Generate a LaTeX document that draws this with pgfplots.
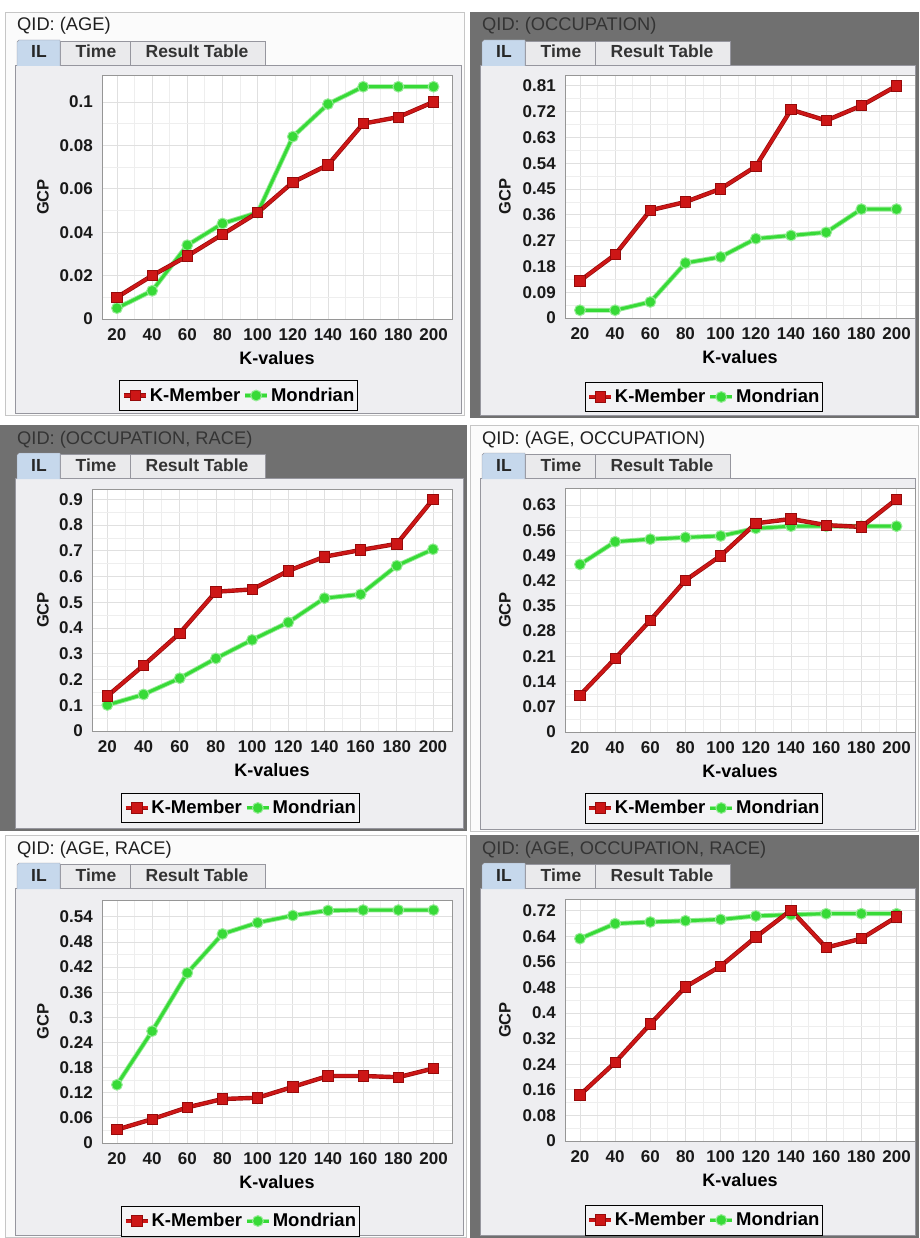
\documentclass[border=0pt]{standalone}
\usepackage{fontspec}
\setmainfont{Liberation Sans}
\usepackage{pgfplots}
\pgfplotsset{compat=1.18}

\definecolor{kred}{RGB}{205,22,22}
\definecolor{kdark}{RGB}{150,10,10}
\definecolor{kgreen}{RGB}{55,218,55}
\definecolor{kglow}{RGB}{150,235,150}
\definecolor{pframe}{RGB}{112,112,112}
\definecolor{cbg}{RGB}{238,238,241}
\definecolor{tabbg}{RGB}{234,234,236}
\definecolor{tabline}{RGB}{150,150,158}
\definecolor{iltab}{RGB}{198,216,236}
\definecolor{gridmaj}{RGB}{224,224,224}
\definecolor{gridmin}{RGB}{238,238,238}

\newcommand{\fs}[1]{\fontsize{#1}{#1}\selectfont}

% #1 L, #2 T, #3 R, #4 B, #5 title, #6 dark
\newcommand{\panel}[6]{%
 \begin{scope}[x=1pt,y=-1pt]
 \ifnum#6=1
   \fill[pframe] (#1,#2) rectangle (#3,#4);
   \node[anchor=base west, text={rgb,255:red,52;green,52;blue,52}, inner sep=0pt] at (#1+12,#2+19) {\fs{18.3}#5};
 \else
   \fill[white!97!gray] (#1,#2) rectangle (#3,#4);
   \draw[gray!45] (#1+0.5,#2+0.5) rectangle (#3-0.5,#4-0.5);
   \node[anchor=base west, text=black!88, inner sep=0pt] at (#1+12,#2+19) {\fs{18.3}#5};
 \fi
 \fill[cbg] (#1+10,#2+53) rectangle (#3-4,#4-3);
 \draw[tabline] (#1+10,#2+53) rectangle (#3-4,#4-3);
 \draw[tabline, fill=tabbg] (#1+55,#2+53) -- (#1+55,#2+29) -- (#1+125,#2+29) -- (#1+125,#2+53);
 \draw[tabline, fill=tabbg] (#1+125,#2+53) -- (#1+125,#2+29) -- (#1+260,#2+29) -- (#1+260,#2+53);
 \draw[tabline, fill=iltab] (#1+12,#2+54) -- (#1+12,#2+30) -- (#1+14,#2+28) -- (#1+55,#2+28) -- (#1+55,#2+54);
 \node[anchor=base, inner sep=0pt, text=black!85] at (#1+34,#2+46) {\bfseries\fs{17.5}IL};
 \node[anchor=base, inner sep=0pt, text=black!80] at (#1+91,#2+46) {\bfseries\fs{17.5}Time};
 \node[anchor=base, inner sep=0pt, text=black!80] at (#1+192,#2+46) {\bfseries\fs{17.5}Result Table};
 \end{scope}
}

\pgfplotsset{
 kstyle/.style={color=kred, line width=3pt, preaction={draw=kdark, line width=4.4pt},
   mark=square*, mark size=5.2pt, mark options={fill=kred, draw=kdark, line width=0.8pt}},
 mstyle/.style={color=kgreen, line width=3pt, preaction={draw=kglow, line width=4.8pt},
   mark=*, mark size=5.4pt, mark options={fill=kgreen, draw=kglow, line width=1pt}},
 gcp/.style={
  scale only axis, anchor=south west,
  xmin=11.5, xmax=210.5, ymin=0,
  xtick={20,40,...,200},
  xticklabels={20,40,60,80,100,120,140,160,180,200},
  scaled ticks=false,
  minor x tick num=1, minor y tick num=1,
  grid=both,
  major grid style={gridmaj, line width=0.8pt},
  minor grid style={gridmin, line width=0.8pt},
  major tick length=0pt, minor tick length=0pt,
  axis line style={draw={rgb,255:red,150;green,150;blue,150}, line width=0.8pt},
  axis background/.style={fill=white},
  tick label style={font=\bfseries\fs{17}, text=black!90},
  yticklabel style={anchor=east, inner sep=0pt, xshift=-9pt},
  xticklabel style={anchor=north, inner sep=0pt, yshift=-9pt},
  xlabel={K-values}, ylabel={GCP},
  xlabel style={at={(axis description cs:0.5,0)}, anchor=base, yshift=-45pt, font=\bfseries\fs{18}},
  legend columns=2,
  legend image code/.code={\draw[mark repeat=2, mark phase=2, #1] plot coordinates {(0pt,0pt) (11pt,0pt) (22pt,0pt)};},
  legend style={draw=black, line width=0.9pt, fill={rgb,255:red,243;green,243;blue,245}, anchor=center,
    font=\bfseries\fs{18.5}, inner xsep=2pt, inner ysep=6pt,
    /tikz/every even column/.append style={column sep=1pt},
    nodes={inner sep=1.5pt}},
 },
 ylab/.style={every axis y label/.style={at={(axis description cs:#1,0.5)}, rotate=90, anchor=center, font=\bfseries\fs{16.5}, text=black!90}},
}

\begin{document}
\begin{tikzpicture}
\useasboundingbox (0pt,0pt) rectangle (919pt,-1238pt);
\fill[white] (0pt,0pt) rectangle (919pt,-1238pt);
\panel{5}{12}{465}{416}{QID: (AGE)}{0}
\panel{470}{12}{919}{418}{QID: (OCCUPATION)}{1}
\fill[pframe] (0pt,-425pt) rectangle (6pt,-831pt);
\panel{5}{425}{467}{831}{QID: (OCCUPATION, RACE)}{1}
\panel{470}{425}{919}{832}{QID: (AGE, OCCUPATION)}{0}
\panel{5}{835}{467}{1238}{QID: (AGE, RACE)}{0}
\panel{470}{835}{919}{1238}{QID: (AGE, OCCUPATION, RACE)}{1}

% Panel 1
\begin{axis}[gcp, ylab=-0.1686, at={(102pt,-319pt)}, width=350pt, height=244pt,
  ymax=0.1124, ytick={0,0.02,0.04,0.06,0.08,0.1}, yticklabels={0,0.02,0.04,0.06,0.08,0.1},
  legend style={at={(0.391,-0.3135)}}]
\addlegendimage{kstyle}\addlegendentry{K-Member}
\addlegendimage{mstyle}\addlegendentry{Mondrian}
\addplot[mstyle, forget plot] coordinates {(20,0.005)(40,0.013)(60,0.034)(80,0.044)(100,0.049)(120,0.084)(140,0.099)(160,0.107)(180,0.107)(200,0.107)};
\addplot[kstyle, forget plot] coordinates {(20,0.010)(40,0.020)(60,0.029)(80,0.039)(100,0.049)(120,0.063)(140,0.071)(160,0.090)(180,0.093)(200,0.100)};
\end{axis}

% Panel 2
\begin{axis}[gcp, ylab=-0.1714, at={(565pt,-318pt)}, width=350pt, height=243pt,
  ymax=0.848, ytick={0,0.09,0.18,0.27,0.36,0.45,0.54,0.63,0.72,0.81}, yticklabels={0,0.09,0.18,0.27,0.36,0.45,0.54,0.63,0.72,0.81},
  legend style={at={(0.397,-0.325)}}]
\addlegendimage{kstyle}\addlegendentry{K-Member}
\addlegendimage{mstyle}\addlegendentry{Mondrian}
\addplot[mstyle, forget plot] coordinates {(20,0.027)(40,0.027)(60,0.056)(80,0.192)(100,0.213)(120,0.277)(140,0.288)(160,0.299)(180,0.380)(200,0.380)};
\addplot[kstyle, forget plot] coordinates {(20,0.130)(40,0.221)(60,0.376)(80,0.405)(100,0.451)(120,0.529)(140,0.727)(160,0.689)(180,0.741)(200,0.810)};
\end{axis}

% Panel 3
\begin{axis}[gcp, ylab=-0.136, at={(92pt,-731pt)}, width=360pt, height=242pt,
  ymax=0.94, ytick={0,0.1,0.2,0.3,0.4,0.5,0.6,0.7,0.8,0.9}, yticklabels={0,0.1,0.2,0.3,0.4,0.5,0.6,0.7,0.8,0.9},
  legend style={at={(0.4125,-0.318)}}]
\addlegendimage{kstyle}\addlegendentry{K-Member}
\addlegendimage{mstyle}\addlegendentry{Mondrian}
\addplot[mstyle, forget plot] coordinates {(20,0.101)(40,0.142)(60,0.205)(80,0.282)(100,0.354)(120,0.422)(140,0.516)(160,0.531)(180,0.642)(200,0.706)};
\addplot[kstyle, forget plot] coordinates {(20,0.136)(40,0.255)(60,0.380)(80,0.541)(100,0.550)(120,0.622)(140,0.677)(160,0.703)(180,0.727)(200,0.900)};
\end{axis}

% Panel 4
\begin{axis}[gcp, ylab=-0.1714, at={(565pt,-732pt)}, width=350pt, height=244pt,
  ymax=0.677, ytick={0,0.07,0.14,0.21,0.28,0.35,0.42,0.49,0.56,0.63}, yticklabels={0,0.07,0.14,0.21,0.28,0.35,0.42,0.49,0.56,0.63},
  legend style={at={(0.397,-0.3115)}}]
\addlegendimage{kstyle}\addlegendentry{K-Member}
\addlegendimage{mstyle}\addlegendentry{Mondrian}
\addplot[mstyle, forget plot] coordinates {(20,0.465)(40,0.528)(60,0.535)(80,0.540)(100,0.544)(120,0.565)(140,0.571)(160,0.571)(180,0.571)(200,0.571)};
\addplot[kstyle, forget plot] coordinates {(20,0.102)(40,0.204)(60,0.310)(80,0.421)(100,0.489)(120,0.579)(140,0.591)(160,0.574)(180,0.569)(200,0.646)};
\end{axis}

% Panel 5
\begin{axis}[gcp, ylab=-0.1686, at={(102pt,-1143pt)}, width=350pt, height=243pt,
  ymax=0.58, ytick={0,0.06,0.12,0.18,0.24,0.3,0.36,0.42,0.48,0.54}, yticklabels={0,0.06,0.12,0.18,0.24,0.3,0.36,0.42,0.48,0.54},
  legend style={at={(0.396,-0.321)}}]
\addlegendimage{kstyle}\addlegendentry{K-Member}
\addlegendimage{mstyle}\addlegendentry{Mondrian}
\addplot[mstyle, forget plot] coordinates {(20,0.139)(40,0.267)(60,0.406)(80,0.499)(100,0.526)(120,0.543)(140,0.555)(160,0.556)(180,0.556)(200,0.556)};
\addplot[kstyle, forget plot] coordinates {(20,0.032)(40,0.057)(60,0.085)(80,0.105)(100,0.108)(120,0.134)(140,0.160)(160,0.160)(180,0.157)(200,0.178)};
\end{axis}

% Panel 6
\begin{axis}[gcp, ylab=-0.1714, at={(565pt,-1141pt)}, width=350pt, height=242pt,
  ymax=0.757, ytick={0,0.08,0.16,0.24,0.32,0.4,0.48,0.56,0.64,0.72}, yticklabels={0,0.08,0.16,0.24,0.32,0.4,0.48,0.56,0.64,0.72},
  legend style={at={(0.397,-0.3264)}}]
\addlegendimage{kstyle}\addlegendentry{K-Member}
\addlegendimage{mstyle}\addlegendentry{Mondrian}
\addplot[mstyle, forget plot] coordinates {(20,0.633)(40,0.680)(60,0.685)(80,0.689)(100,0.693)(120,0.704)(140,0.708)(160,0.711)(180,0.711)(200,0.711)};
\addplot[kstyle, forget plot] coordinates {(20,0.144)(40,0.246)(60,0.366)(80,0.482)(100,0.547)(120,0.638)(140,0.722)(160,0.605)(180,0.633)(200,0.701)};
\end{axis}
\end{tikzpicture}
\end{document}
